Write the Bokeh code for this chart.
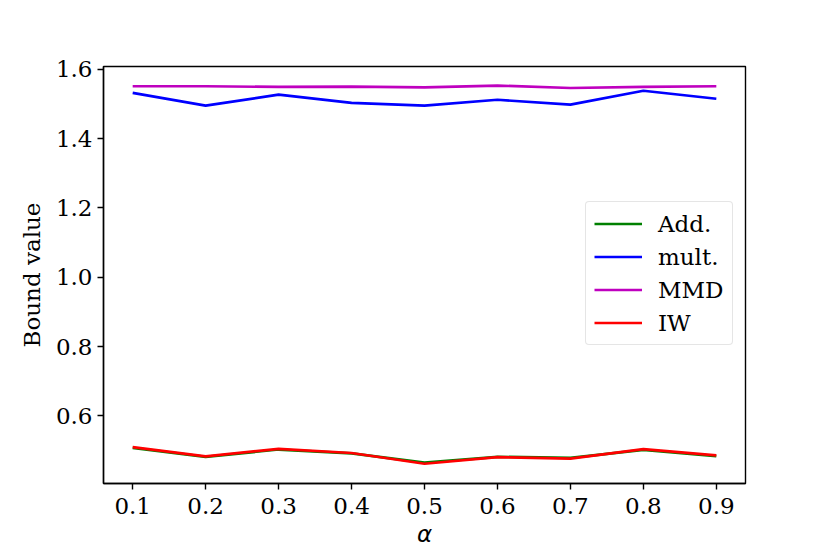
from bokeh.plotting import figure
from bokeh.models import FixedTicker, Range1d, Legend
from bokeh.embed import file_html
from bokeh.resources import INLINE

alpha = [0.1, 0.2, 0.3, 0.4, 0.5, 0.6, 0.7, 0.8, 0.9]
add_vals = [0.508, 0.482, 0.503, 0.492, 0.465, 0.482, 0.479, 0.502, 0.484]
mult_vals = [1.532, 1.495, 1.527, 1.503, 1.495, 1.512, 1.498, 1.538, 1.515]
mmd_vals = [1.551, 1.551, 1.549, 1.550, 1.548, 1.553, 1.546, 1.549, 1.551]
iw_vals = [0.510, 0.483, 0.505, 0.493, 0.462, 0.481, 0.477, 0.504, 0.486]

x_ticks = [0.1, 0.2, 0.3, 0.4, 0.5, 0.6, 0.7, 0.8, 0.9]
x_tick_labels = ["0.1", "0.2", "0.3", "0.4", "0.5", "0.6", "0.7", "0.8", "0.9"]
y_ticks = [0.6, 0.8, 1.0, 1.2, 1.4, 1.6]
y_tick_labels = ["0.6", "0.8", "1.0", "1.2", "1.4", "1.6"]

series = [
    ("Add.", add_vals, "#008000"),
    ("mult.", mult_vals, "#0000ff"),
    ("MMD", mmd_vals, "#bf00bf"),
    ("IW", iw_vals, "#ff0000"),
]

FS = "23px"

p = figure(width=828, height=552, output_backend="svg", toolbar_location=None,
           x_range=Range1d(0.06, 0.94), y_range=Range1d(0.405, 1.608),
           min_border_left=103, min_border_right=83, min_border_top=66, min_border_bottom=69)

p.background_fill_color = "white"
p.border_fill_color = "white"
p.outline_line_color = "black"
p.outline_line_width = 1.4
p.grid.visible = False

renderers = []
for name, vals, col in series:
    r = p.line(alpha, vals, line_color=col, line_width=2.7)
    renderers.append((name, [r]))

legend = Legend(items=renderers, location=(482, 138), margin=0)
legend.label_text_font = "DejaVu Serif"
legend.label_text_font_size = FS
legend.label_text_color = "black"
legend.glyph_width = 48
legend.glyph_height = 27
legend.label_height = 27
legend.label_standoff = 16
legend.spacing = 6
legend.padding = 8
legend.border_line_color = "#cccccc"
legend.border_line_width = 1.4
legend.background_fill_color = "white"
legend.background_fill_alpha = 0.8
if "border_radius" in Legend.properties():
    legend.border_radius = 4
p.add_layout(legend, "center")

for ax in (p.xaxis[0], p.yaxis[0]):
    ax.major_label_text_font = "DejaVu Serif"
    ax.major_label_text_font_size = FS
    ax.major_label_text_color = "black"
    ax.major_tick_out = 6
    ax.major_tick_in = 0
    ax.major_tick_line_width = 1.4
    ax.major_tick_line_color = "black"
    ax.minor_tick_line_color = None
    ax.axis_line_color = "black"
    ax.axis_line_width = 1.4
    ax.axis_label_text_font_size = FS
    ax.axis_label_text_color = "black"

p.xaxis.major_label_standoff = 8
p.yaxis.major_label_standoff = 5

p.xaxis.ticker = FixedTicker(ticks=x_ticks)
p.xaxis.major_label_overrides = {t: l for t, l in zip(x_ticks, x_tick_labels)}
p.yaxis.ticker = FixedTicker(ticks=y_ticks)
p.yaxis.major_label_overrides = {t: l for t, l in zip(y_ticks, y_tick_labels)}

p.xaxis.axis_label = "α"
p.xaxis.axis_label_text_font = "DejaVu Sans"
p.xaxis.axis_label_text_font_style = "italic"
p.xaxis.axis_label_standoff = 4
p.yaxis.axis_label = "Bound value"
p.yaxis.axis_label_text_font = "DejaVu Serif"
p.yaxis.axis_label_text_font_style = "normal"
p.yaxis.axis_label_standoff = 8

open("out.html", "w").write(file_html(p, INLINE))
